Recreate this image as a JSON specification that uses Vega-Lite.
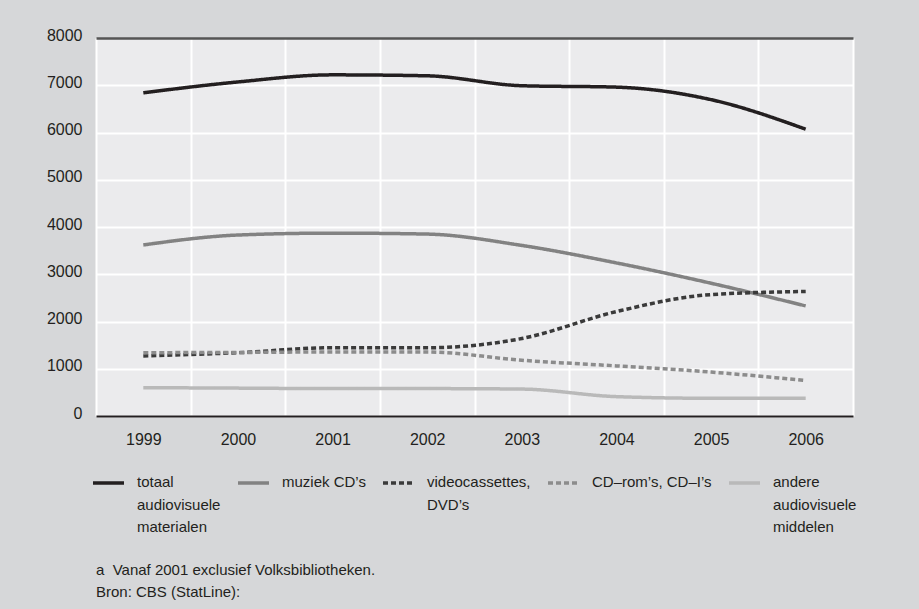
{
  "$schema": "https://vega.github.io/schema/vega-lite/v6.json",
  "width": 757,
  "height": 378,
  "autosize": {"type": "none"},
  "padding": {"left": 96, "top": 38, "right": 66, "bottom": 193},
  "background": "#d6d7d9",
  "config": {
    "view": {"stroke": null, "fill": "#ebebed"},
    "font": "Liberation Sans",
    "axis": {"labelFont": "Liberation Sans", "labelColor": "#231f20"},
    "legend": {"labelFont": "Liberation Sans", "labelColor": "#231f20"}
  },
  "title": {
    "text": ["a\u00a0\u00a0Vanaf 2001 exclusief Volksbibliotheken.", "Bron: CBS (StatLine):"],
    "orient": "bottom",
    "anchor": "start",
    "frame": "group",
    "fontSize": 15,
    "fontWeight": "normal",
    "color": "#231f20",
    "lineHeight": 22,
    "offset": 28
  },
  "data": {
    "values": [
      {"jaar": "1999", "reeks": "totaal audiovisuele materialen", "waarde": 6840},
      {"jaar": "2000", "reeks": "totaal audiovisuele materialen", "waarde": 7070},
      {"jaar": "2001", "reeks": "totaal audiovisuele materialen", "waarde": 7220},
      {"jaar": "2002", "reeks": "totaal audiovisuele materialen", "waarde": 7200},
      {"jaar": "2003", "reeks": "totaal audiovisuele materialen", "waarde": 6990},
      {"jaar": "2004", "reeks": "totaal audiovisuele materialen", "waarde": 6960},
      {"jaar": "2005", "reeks": "totaal audiovisuele materialen", "waarde": 6695},
      {"jaar": "2006", "reeks": "totaal audiovisuele materialen", "waarde": 6070},
      {"jaar": "1999", "reeks": "muziek CD’s", "waarde": 3620},
      {"jaar": "2000", "reeks": "muziek CD’s", "waarde": 3830},
      {"jaar": "2001", "reeks": "muziek CD’s", "waarde": 3870},
      {"jaar": "2002", "reeks": "muziek CD’s", "waarde": 3850},
      {"jaar": "2003", "reeks": "muziek CD’s", "waarde": 3610},
      {"jaar": "2004", "reeks": "muziek CD’s", "waarde": 3240},
      {"jaar": "2005", "reeks": "muziek CD’s", "waarde": 2810},
      {"jaar": "2006", "reeks": "muziek CD’s", "waarde": 2330},
      {"jaar": "1999", "reeks": "videocassettes, DVD’s", "waarde": 1270},
      {"jaar": "2000", "reeks": "videocassettes, DVD’s", "waarde": 1340},
      {"jaar": "2001", "reeks": "videocassettes, DVD’s", "waarde": 1445},
      {"jaar": "2002", "reeks": "videocassettes, DVD’s", "waarde": 1445},
      {"jaar": "2003", "reeks": "videocassettes, DVD’s", "waarde": 1640},
      {"jaar": "2004", "reeks": "videocassettes, DVD’s", "waarde": 2210},
      {"jaar": "2005", "reeks": "videocassettes, DVD’s", "waarde": 2570},
      {"jaar": "2006", "reeks": "videocassettes, DVD’s", "waarde": 2635},
      {"jaar": "1999", "reeks": "CD–rom’s, CD–I’s", "waarde": 1340},
      {"jaar": "2000", "reeks": "CD–rom’s, CD–I’s", "waarde": 1345},
      {"jaar": "2001", "reeks": "CD–rom’s, CD–I’s", "waarde": 1355},
      {"jaar": "2002", "reeks": "CD–rom’s, CD–I’s", "waarde": 1355},
      {"jaar": "2003", "reeks": "CD–rom’s, CD–I’s", "waarde": 1180},
      {"jaar": "2004", "reeks": "CD–rom’s, CD–I’s", "waarde": 1060},
      {"jaar": "2005", "reeks": "CD–rom’s, CD–I’s", "waarde": 930},
      {"jaar": "2006", "reeks": "CD–rom’s, CD–I’s", "waarde": 750},
      {"jaar": "1999", "reeks": "andere audiovisuele middelen", "waarde": 600},
      {"jaar": "2000", "reeks": "andere audiovisuele middelen", "waarde": 590},
      {"jaar": "2001", "reeks": "andere audiovisuele middelen", "waarde": 580},
      {"jaar": "2002", "reeks": "andere audiovisuele middelen", "waarde": 580},
      {"jaar": "2003", "reeks": "andere audiovisuele middelen", "waarde": 570},
      {"jaar": "2004", "reeks": "andere audiovisuele middelen", "waarde": 410},
      {"jaar": "2005", "reeks": "andere audiovisuele middelen", "waarde": 375},
      {"jaar": "2006", "reeks": "andere audiovisuele middelen", "waarde": 375}
    ]
  },
  "mark": {"type": "line", "strokeWidth": 3.5, "interpolate": "monotone", "strokeCap": "butt"},
  "encoding": {
    "x": {
      "field": "jaar",
      "type": "ordinal",
      "bandPosition": 0.5,
      "scale": {"type": "band", "paddingInner": 0, "paddingOuter": 0},
      "axis": {
        "title": null,
        "labelAngle": 0,
        "labelFontSize": 16,
        "labelPadding": 15,
        "ticks": false,
        "tickBand": "extent",
        "grid": true,
        "gridColor": "#ffffff",
        "gridWidth": 2,
        "domain": true,
        "domainColor": "#231f20",
        "domainWidth": 2
      }
    },
    "y": {
      "field": "waarde",
      "type": "quantitative",
      "scale": {"domain": [0, 8000], "nice": false},
      "axis": {
        "title": null,
        "format": "d",
        "values": [0, 1000, 2000, 3000, 4000, 5000, 6000, 7000, 8000],
        "labelFontSize": 16,
        "labelPadding": 14,
        "labelOffset": -3,
        "ticks": false,
        "domain": false,
        "grid": true,
        "gridColor": {"condition": {"test": "datum.value === 8000", "value": "#555555"}, "value": "#ffffff"},
        "gridWidth": {"condition": {"test": "datum.value === 8000", "value": 2.5}, "value": 2}
      }
    },
    "color": {
      "field": "reeks",
      "type": "nominal",
      "scale": {
        "domain": ["totaal audiovisuele materialen", "muziek CD’s", "videocassettes, DVD’s", "CD–rom’s, CD–I’s", "andere audiovisuele middelen"],
        "range": ["#231f20", "#828282", "#3a3a3a", "#8c8c8c", "#b9b9b9"]
      },
      "legend": {
        "title": null,
        "orient": "none",
        "legendX": -5,
        "legendY": 437,
        "direction": "horizontal",
        "columns": 5,
        "columnPadding": 10,
        "padding": 0,
        "symbolType": "stroke",
        "symbolSize": 961,
        "symbolStrokeWidth": 3.5,
        "labelFontSize": 15,
        "labelOffset": 11,
        "labelLimit": 300,
        "labelExpr": "datum.label === 'totaal audiovisuele materialen' ? ['totaal', 'audiovisuele', 'materialen'] : datum.label === 'videocassettes, DVD’s' ? ['videocassettes,', 'DVD’s', ' '] : datum.label === 'andere audiovisuele middelen' ? ['andere', 'audiovisuele', 'middelen'] : [datum.label, ' ', ' ']",
        "encode": {
          "symbols": {"update": {"y": {"value": 8}}},
          "labels": {"update": {"lineHeight": {"value": 22.5}, "baseline": {"value": "top"}, "y": {"value": 0}, "dy": {"value": 0}}}
        }
      }
    },
    "strokeDash": {
      "field": "reeks",
      "type": "nominal",
      "scale": {
        "domain": ["totaal audiovisuele materialen", "muziek CD’s", "videocassettes, DVD’s", "CD–rom’s, CD–I’s", "andere audiovisuele middelen"],
        "range": [[1, 0], [1, 0], [5, 3], [5, 3], [1, 0]]
      },
      "legend": null
    }
  }
}
